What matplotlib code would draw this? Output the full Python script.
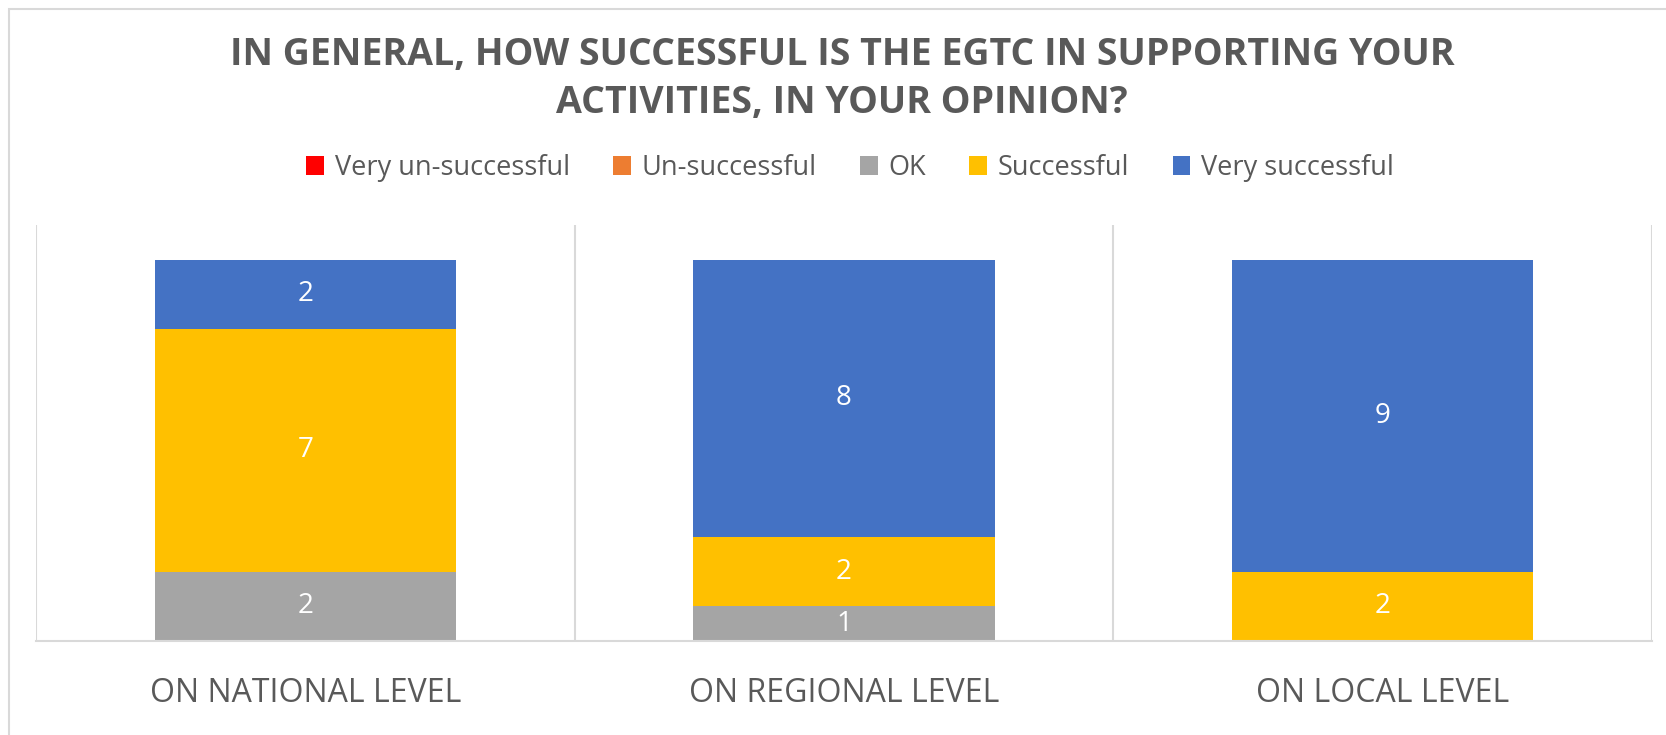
import matplotlib
matplotlib.use("Agg")
import matplotlib.pyplot as plt
from matplotlib.patches import Rectangle
import numpy as np

categories = ["ON NATIONAL LEVEL", "ON REGIONAL LEVEL", "ON LOCAL LEVEL"]
series_names = ["Very un-successful", "Un-successful", "OK", "Successful", "Very successful"]
very_unsuccessful = [0, 0, 0]
unsuccessful = [0, 0, 0]
ok = [2, 1, 0]
successful = [7, 2, 2]
very_successful = [2, 8, 9]
series_values = [very_unsuccessful, unsuccessful, ok, successful, very_successful]
colors = ["#FF0000", "#ED7D31", "#A5A5A5", "#FFC000", "#4472C4"]
title = "IN GENERAL, HOW SUCCESSFUL IS THE EGTC IN SUPPORTING YOUR\nACTIVITIES, IN YOUR OPINION?"

TXT = "#595959"
GRID = "#D9D9D9"
W, H = 1666, 735
plt.rcParams['font.family'] = ['Open Sans', 'DejaVu Sans']

fig = plt.figure(figsize=(W / 100, H / 100), dpi=100)
fig.patches.append(Rectangle((9 / W, -0.1), 1.2, 1 - 9 / H + 0.1, transform=fig.transFigure,
                             fill=False, edgecolor=GRID, linewidth=1.5))

ax = fig.add_axes([36 / W, (H - 641) / H, (1652 - 36) / W, (641 - 225) / H])
x = np.arange(len(categories))
bottom = np.zeros(len(categories))
handles = []
for name, vals, col in zip(series_names, series_values, colors):
    vals = np.array(vals, dtype=float)
    bars = ax.bar(x, vals, bottom=bottom, width=0.56, color=col, label=name, linewidth=0)
    handles.append(bars)
    labels = [f"{int(v)}" if v > 0 else "" for v in vals]
    ax.bar_label(bars, labels=labels, label_type="center", color="white", fontsize=20)
    bottom += vals

ax.set_xlim(-0.5, len(categories) - 0.5)
ax.set_ylim(0, 12)
ax.set_yticks([])
ax.set_xticks(x)
ax.set_xticklabels(categories, fontsize=23, color=TXT)
ax.tick_params(axis="x", length=0, pad=26)
for s in ["top", "right", "left"]:
    ax.spines[s].set_visible(False)
ax.spines["bottom"].set_color(GRID)
ax.spines["bottom"].set_linewidth(1.5)
for b in np.arange(-0.5, len(categories), 1.0):
    ax.axvline(b, color=GRID, linewidth=1.5, zorder=0)

fig.text(842 / W, 1 - 79 / H, title, ha="center", va="center", fontsize=27,
         fontweight="bold", color=TXT, linespacing=1.36)

leg = fig.legend(handles=handles, labels=series_names, loc="center", ncol=5,
                 bbox_to_anchor=(850 / W, 1 - 168 / H), frameon=False, fontsize=19.5,
                 handlelength=0.65, handleheight=0.65, handletextpad=0.4, columnspacing=1.6)
for t in leg.get_texts():
    t.set_color(TXT)

fig.savefig("out.png", dpi=100)
